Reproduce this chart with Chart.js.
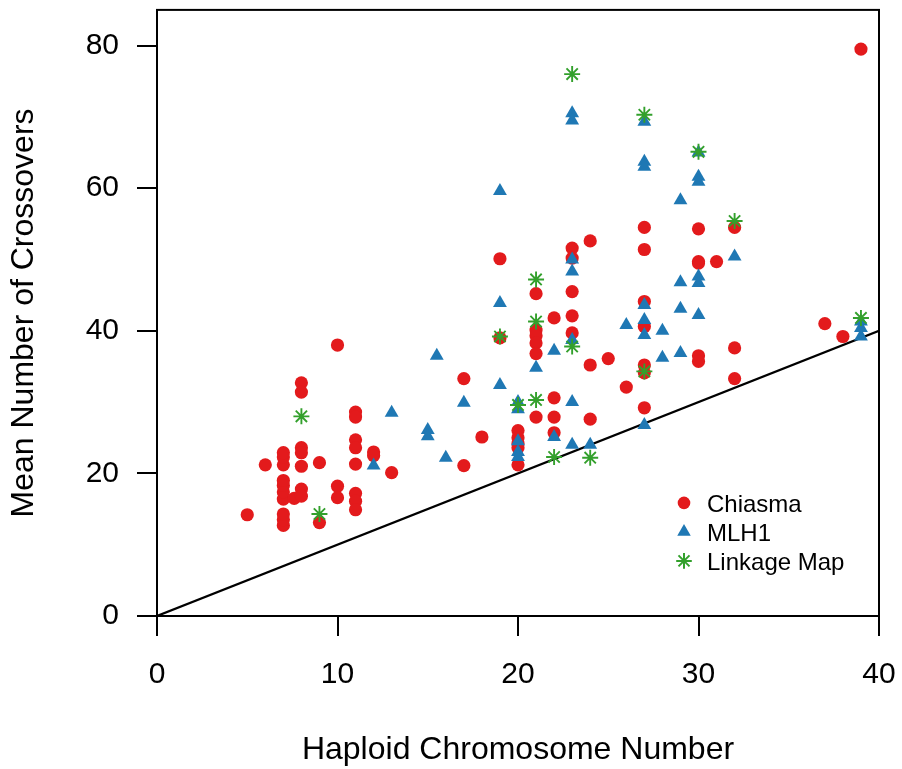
<!DOCTYPE html>
<html>
<head>
<meta charset="utf-8">
<script src="https://cdn.jsdelivr.net/npm/chart.js@4/dist/chart.umd.min.js"></script>
<style>
  html, body { margin: 0; padding: 0; background: #fff; }
  canvas { display: block; }
</style>
</head>
<body>
<canvas id="crossoverChart" width="902" height="769"></canvas>
<script>
// Chiasma counts
const chiasmaX = [5, 6,
    7, 7, 7, 7, 7, 7, 7, 7, 7, 7, 7.6,
    8, 8, 8, 8, 8, 8, 8, 9, 9, 10, 10, 10,
    11, 11, 11, 11, 11, 11, 11, 11, 12, 12, 13, 17, 17, 18, 19, 19,
    20, 20, 20, 20, 20, 21, 21, 21, 21, 21, 21, 22, 22, 22, 22,
    23, 23, 23, 23, 23, 24, 24, 24, 25, 26,
    27, 27, 27, 27, 27, 27, 27, 30, 30, 30, 30, 30, 31, 32, 32, 32,
    37, 38, 39];
const chiasmaY = [14.2, 21.2,
    12.7, 13.5, 14.3, 16.4, 17.4, 18.3, 19.0, 21.2, 22.3, 22.9, 16.5,
    32.7, 31.4, 23.6, 22.9, 21.0, 17.8, 16.8, 21.5, 13.1, 38.0, 18.2, 16.6,
    28.6, 27.9, 24.7, 23.6, 21.3, 17.2, 16.1, 14.9, 23.0, 22.5, 20.1, 33.3, 21.1, 25.1, 50.1, 39.0,
    26.0, 25.0, 24.2, 23.6, 21.2, 45.2, 40.1, 39.3, 38.3, 36.8, 27.9, 41.8, 30.6, 27.9, 25.7,
    51.6, 50.2, 45.5, 42.1, 39.7, 52.6, 35.2, 27.6, 36.1, 32.1,
    54.5, 51.4, 44.1, 40.6, 35.2, 34.1, 29.2, 54.3, 49.7, 49.5, 36.5, 35.7, 49.7, 54.5, 37.6, 33.3,
    41.0, 39.2, 79.5];

// MLH1 foci
const mlh1X = [12, 13, 15, 15, 15.5, 16, 17, 19, 19, 19,
    20, 20, 20, 20, 20, 21, 22, 22,
    23, 23, 23, 23, 23, 23, 23, 24, 26,
    27, 27, 27, 27, 27, 27, 27, 28, 28, 29, 29, 29, 29,
    30, 30, 30, 30, 30, 30, 32, 39, 39, 39];
const mlh1Y = [21.1, 28.5, 26.1, 25.2, 36.5, 22.2, 29.9, 59.6, 43.9, 32.4,
    30.0, 29.0, 24.5, 23.0, 22.3, 34.8, 37.2, 25.1,
    70.5, 69.5, 50.0, 48.3, 38.7, 30.0, 24.0, 24.0, 40.8,
    69.3, 63.7, 63.0, 43.6, 41.5, 39.4, 26.8, 40.0, 36.2, 58.3, 46.8, 43.1, 36.9,
    65.0, 61.6, 60.9, 47.6, 46.7, 42.2, 50.4, 41.3, 40.4, 39.2];

// Linkage map estimates
const linkageX = [8, 9, 19, 20, 21, 21, 21, 22, 23, 23, 24, 27, 27, 30, 32, 39];
const linkageY = [28.0, 14.3, 39.2, 29.6, 47.2, 41.3, 30.3, 22.3, 76.0, 37.8, 22.2, 70.3, 34.3, 65.1, 55.4, 41.8];

// y = x reference line
const refX = [0, 40];
const refY = [0, 40];

const RED = '#E31A1C';
const BLUE = '#1F78B4';
const GREEN = '#33A02C';

function toPoints(xs, ys) {
    return xs.map((x, i) => ({ x: x, y: ys[i] }));
}

// box round the plot + legend in the lower right
const boxAndLegend = {
    id: 'boxAndLegend',
    afterDraw(chart) {
        const ctx = chart.ctx;
        const area = chart.chartArea;
        ctx.save();
        ctx.strokeStyle = '#000';
        ctx.lineWidth = 2;
        ctx.strokeRect(area.left, area.top, area.right - area.left, area.bottom - area.top);

        const items = [
            { text: 'Chiasma', style: 'circle', color: RED, radius: 6.3 },
            { text: 'MLH1', style: 'triangle', color: BLUE, radius: 7.8 },
            { text: 'Linkage Map', style: 'star', color: GREEN, radius: 7.8 }
        ];
        const mx = area.left + 527;
        let my = area.top + 493;
        ctx.font = '24px "Liberation Sans", Arial, sans-serif';
        ctx.textBaseline = 'alphabetic';
        ctx.textAlign = 'left';
        items.forEach(item => {
            ctx.fillStyle = item.color;
            ctx.strokeStyle = item.color;
            Chart.helpers.drawPoint(ctx, {
                pointStyle: item.style,
                radius: item.radius,
                rotation: 0,
                borderWidth: item.style === 'star' ? 1.9 : 0
            }, mx, my);
            ctx.fillStyle = '#000';
            ctx.fillText(item.text, mx + 23, my + 9);
            my += 29;
        });
        ctx.restore();
    }
};

// no extra room for label overflow: the layout padding sets the plot box
function noOverflow(scale) {
    scale.paddingTop = 0;
    scale.paddingBottom = 0;
    scale.paddingLeft = 0;
    scale.paddingRight = 0;
}

const tickFont = { family: '"Liberation Sans", Arial, sans-serif', size: 30 };
const titleFont = { family: '"Liberation Sans", Arial, sans-serif', size: 32 };

new Chart(document.getElementById('crossoverChart').getContext('2d'), {
    type: 'scatter',
    data: {
        datasets: [
            {
                label: 'Linkage Map',
                data: toPoints(linkageX, linkageY),
                pointStyle: 'star',
                pointRadius: 8,
                borderColor: GREEN,
                backgroundColor: GREEN,
                pointBorderWidth: 1.9,
                order: 1
            },
            {
                label: 'MLH1',
                data: toPoints(mlh1X, mlh1Y),
                pointStyle: 'triangle',
                pointRadius: 8,
                backgroundColor: BLUE,
                borderColor: BLUE,
                pointBorderWidth: 0,
                order: 2
            },
            {
                label: 'Chiasma',
                data: toPoints(chiasmaX, chiasmaY),
                pointStyle: 'circle',
                pointRadius: 6.6,
                backgroundColor: RED,
                borderColor: RED,
                pointBorderWidth: 0,
                order: 3
            },
            {
                type: 'line',
                label: 'y = x',
                data: toPoints(refX, refY),
                borderColor: '#000',
                borderWidth: 2.2,
                pointRadius: 0,
                fill: false,
                order: 4
            }
        ]
    },
    options: {
        responsive: false,
        animation: false,
        events: [],
        layout: { padding: { left: 0, right: 23, top: 9, bottom: 0 } },
        plugins: {
            legend: { display: false },
            tooltip: { enabled: false }
        },
        scales: {
            x: {
                type: 'linear',
                min: 0,
                max: 40,
                ticks: { stepSize: 10, color: '#000', font: tickFont, padding: 21, maxRotation: 0 },
                grid: { drawOnChartArea: false, drawTicks: true, tickLength: 20, color: '#000', lineWidth: 2 },
                border: { display: true, color: '#000', width: 2 },
                title: {
                    display: true,
                    text: 'Haploid Chromosome Number',
                    color: '#000',
                    font: titleFont,
                    padding: { top: 0, bottom: 0 }
                },
                afterFit: scale => { scale.height = 153; noOverflow(scale); }
            },
            y: {
                type: 'linear',
                min: 0,
                max: 85,
                ticks: { stepSize: 20, includeBounds: false, color: '#000', font: tickFont, padding: 18 },
                grid: { drawOnChartArea: false, drawTicks: true, tickLength: 20, color: '#000', lineWidth: 2 },
                border: { display: true, color: '#000', width: 2 },
                title: {
                    display: true,
                    text: 'Mean Number of Crossovers',
                    color: '#000',
                    font: titleFont,
                    padding: { top: 5, bottom: 0 }
                },
                afterFit: scale => { scale.width = 157; noOverflow(scale); }
            }
        }
    },
    plugins: [boxAndLegend]
});
</script>
</body>
</html>
